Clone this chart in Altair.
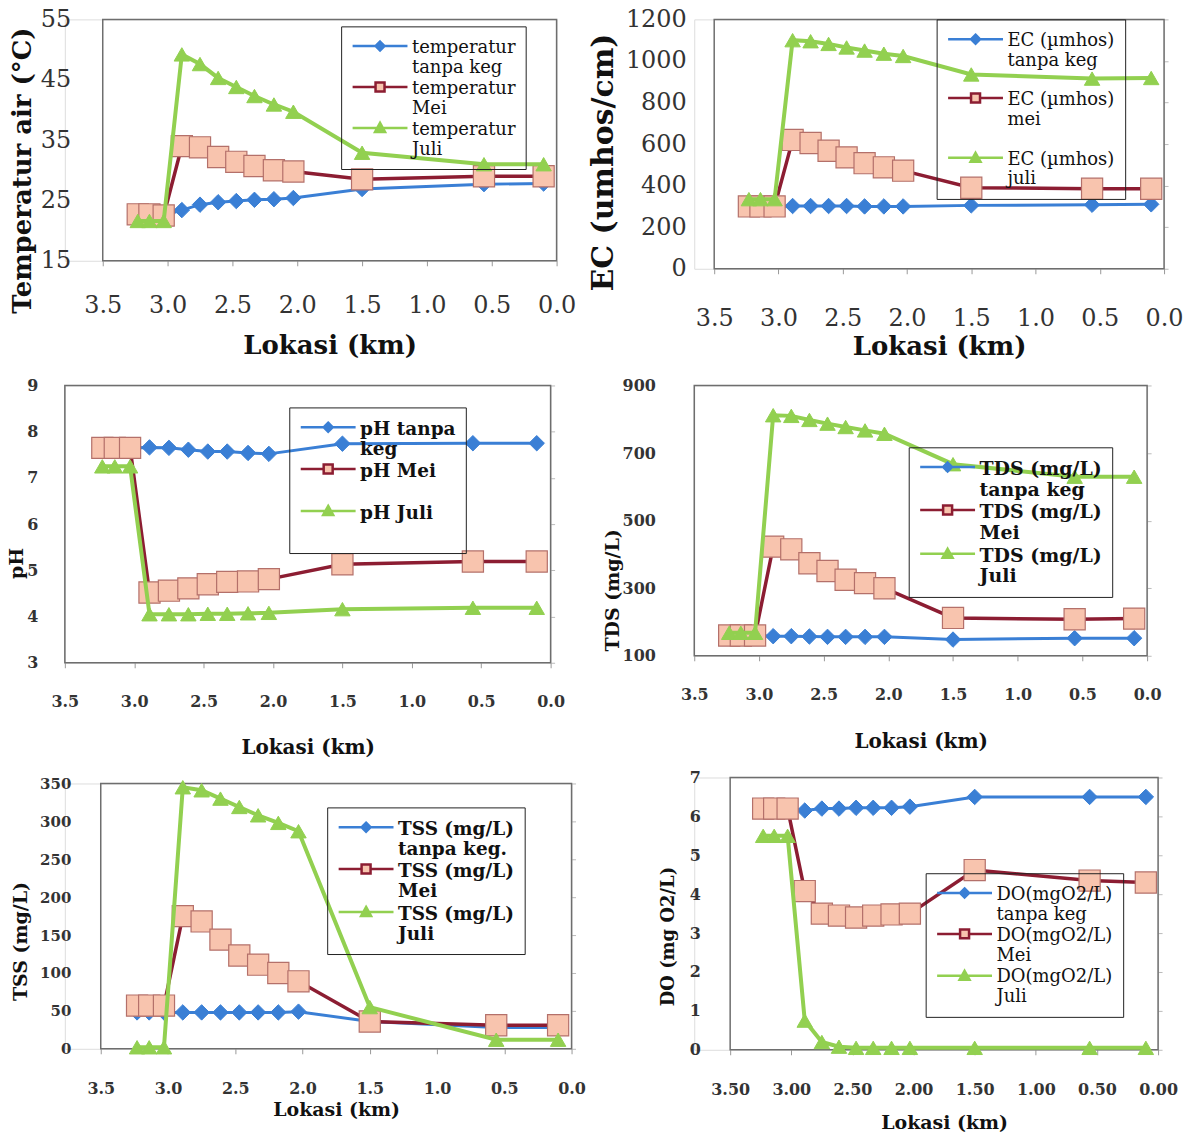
import altair as alt
import pandas as pd

# ---------------- data ----------------
km = [3.23, 3.14, 3.03, 2.89, 2.75, 2.61, 2.47, 2.33, 2.18, 2.03, 1.50, 0.56, 0.10]
x_ticks = [0.0, 0.5, 1.0, 1.5, 2.0, 2.5, 3.0, 3.5]

temp_names = ["temperatur|tanpa keg", "temperatur|Mei", "temperatur|Juli"]
temp_tanpa = [22.7, 22.7, 22.5, 23.4, 24.3, 24.7, 24.9, 25.1, 25.2, 25.4, 26.9, 27.7, 27.8]
temp_mei = [22.7, 22.7, 22.5, 34.0, 33.8, 32.2, 31.4, 30.7, 30.0, 29.8, 28.5, 29.0, 29.0]
temp_juli = [21.6, 21.6, 21.6, 49.2, 47.6, 45.3, 43.8, 42.3, 40.9, 39.7, 32.9, 31.0, 31.0]

ec_names = ["EC (µmhos)|tanpa keg", "EC (µmhos)|mei", "EC (µmhos)|juli"]
ec_tanpa = [300, 300, 300, 302, 302, 302, 302, 300, 300, 300, 305, 308, 310]
ec_mei = [300, 300, 300, 620, 605, 568, 536, 508, 488, 472, 390, 385, 385]
ec_juli = [335, 335, 335, 1100, 1095, 1082, 1065, 1050, 1035, 1024, 935, 915, 918]

ph_names = ["pH tanpa|keg", "pH Mei| ", "pH Juli| "]
ph_tanpa = [7.65, 7.65, 7.65, 7.66, 7.65, 7.61, 7.57, 7.57, 7.54, 7.52, 7.74, 7.75, 7.75]
ph_mei = [7.65, 7.65, 7.65, 4.52, 4.56, 4.61, 4.70, 4.75, 4.76, 4.81, 5.13, 5.19, 5.19]
ph_juli = [7.25, 7.25, 7.25, 4.05, 4.05, 4.05, 4.06, 4.06, 4.07, 4.08, 4.16, 4.19, 4.19]

tds_names = ["TDS (mg/L)|tanpa keg", "TDS (mg/L)|Mei", "TDS (mg/L)|Juli"]
tds_tanpa = [160, 160, 160, 158, 158, 157, 156, 156, 156, 156, 148, 152, 152]
tds_mei = [160, 160, 160, 423, 415, 374, 351, 325, 315, 300, 212, 208, 210]
tds_juli = [168, 168, 168, 812, 810, 798, 787, 777, 767, 757, 667, 630, 630]

tss_names = ["TSS (mg/L)|tanpa keg.", "TSS (mg/L)|Mei", "TSS (mg/L)|Juli"]
tss_tanpa = [48, 48, 48, 48, 48, 48, 48, 48, 48, 49, 36, 28, 28]
tss_mei = [57, 57, 57, 175, 168, 144, 123, 111, 100, 89, 36, 31, 31]
tss_juli = [2, 2, 2, 345, 341, 330, 319, 308, 298, 287, 55, 12, 12]

do_names = ["DO(mgO2/L)|tanpa keg", "DO(mgO2/L)|Mei", "DO(mgO2/L)|Juli"]
do_tanpa = [6.2, 6.2, 6.2, 6.15, 6.2, 6.2, 6.22, 6.22, 6.22, 6.25, 6.5, 6.5, 6.5]
do_mei = [6.2, 6.2, 6.2, 4.08, 3.5, 3.45, 3.4, 3.45, 3.48, 3.5, 4.62, 4.35, 4.3]
do_juli = [5.5, 5.5, 5.5, 0.75, 0.2, 0.08, 0.05, 0.05, 0.05, 0.05, 0.05, 0.05, 0.05]

# ---------------- styles ----------------
BLUE = "#3a7fd5"
RED = "#8c1d32"
PINK = "#f8c4ae"
SQ_EDGE = "#b4706a"
GREEN = "#92d050"
FRAME = "#6e6e6e"
SERIF = "DejaVu Serif"

SERIES_STYLE = [
    dict(line=BLUE, lw=3, shape="diamond", fill=BLUE, stroke=BLUE, size=240, sw=1),
    dict(line=RED, lw=3.5, shape="square", fill=PINK, stroke=SQ_EDGE, size=450, sw=1.2),
    dict(line=GREEN, lw=4, shape="triangle-up", fill=GREEN, stroke=GREEN, size=240, sw=1),
]


def legend_paths(dy):
    return [
        f"M-1,{dy}H4.5M1.75,{dy-0.45}L2.2,{dy}L1.75,{dy+0.45}L1.3,{dy}Z",
        f"M-1,{dy}H1.3M2.2,{dy}H4.5M1.3,{dy-0.45}H2.2V{dy+0.45}H1.3Z",
        f"M-1,{dy}H4.5M1.75,{dy-0.5}L2.25,{dy+0.4}L1.25,{dy+0.4}Z",
    ]


def panel(names, series, ydom, yticks, xfmt, w, r0, h, s):
    rows = []
    for name, vals in zip(names, series):
        for k, v in zip(km, vals):
            rows.append({"km": k, "value": v, "series": name})
    df = pd.DataFrame(rows)
    base = alt.Chart(df)

    xscale = alt.Scale(domain=[0, 3.5], reverse=True, nice=False, zero=False, range=[r0, w])
    yscale = alt.Scale(domain=ydom, nice=False, zero=False)
    xaxis = alt.Axis(
        values=x_ticks, format=xfmt, grid=False, domain=False,
        tickSize=5, tickColor="#999", labelFlush=False, labelOverlap=False,
        labelFont=SERIF, labelFontSize=s["xl_fs"], labelFontWeight=s["lw"],
        labelColor="#333", labelPadding=s["xl_pad"],
        title="Lokasi (km)", titleFont=SERIF, titleFontSize=s["xt_fs"],
        titleFontWeight="bold", titleColor="#111", titlePadding=s["xt_pad"],
    )
    x = alt.X("km:Q", scale=xscale, axis=xaxis, title="Lokasi (km)")
    y_main = alt.Y(
        "value:Q", scale=yscale,
        axis=alt.Axis(
            values=yticks, format="d", grid=False, domain=False, ticks=False,
            labelFlush=False, labelOverlap=False, offset=-r0,
            labelFont=SERIF, labelFontSize=s["yl_fs"], labelFontWeight=s["lw"],
            labelColor="#333", labelPadding=s["yl_pad"],
            title=s["ytitle"], titleFont=SERIF, titleFontSize=s["yt_fs"],
            titleFontWeight="bold", titleColor="#111", titlePadding=s["yt_pad"],
            titleY=s["titleY"],
        ),
    )
    y_plain = alt.Y("value:Q", scale=yscale, axis=None)

    layers = []
    first = True
    for name, st in zip(names, SERIES_STYLE):
        sub = base.transform_filter(alt.datum.series == name)
        layers.append(sub.mark_line(color=st["line"], strokeWidth=st["lw"]).encode(
            x=x, y=y_main if first else y_plain))
        first = False
        layers.append(
            sub.mark_point(
                shape=st["shape"], filled=True, fill=st["fill"], stroke=st["stroke"],
                strokeWidth=st["sw"], size=st["size"], opacity=1,
            ).encode(x=x, y=y_plain)
        )

    # plot frame, drawn through the scales (same x axis definition so axes merge)
    frame = alt.Chart(alt.Data(values=[{}])).mark_rect(
        fillOpacity=0, stroke=FRAME, strokeWidth=1.5
    ).encode(
        x=alt.X(datum=3.5, scale=xscale, axis=xaxis, title="Lokasi (km)"),
        x2=alt.datum(0),
        y=alt.Y(datum=ydom[0], scale=yscale, axis=None),
        y2=alt.datum(ydom[1]),
    )
    layers.insert(0, frame)

    # secondary (right) axis: light tick marks only
    if s.get("right"):
        layers.append(
            base.transform_filter("false").mark_point().encode(
                x=x,
                y=alt.Y("value:Q", scale=yscale, axis=alt.Axis(
                    orient="right", values=yticks, grid=False, domain=False,
                    ticks=True, tickSize=4, tickColor="#bbb", labels=False, title=None,
                )),
            )
        )

    leg = alt.Legend(
        orient="none", legendX=s["lx"], legendY=s["ly"], title=None,
        strokeColor="#222", padding=s["lpad"],
        labelFont=SERIF, labelFontSize=s["lfs"], labelFontWeight=s["lfw"],
        labelColor="#111", labelLimit=400, labelBaseline="middle",
        labelExpr="split(datum.label, '|')", labelOffset=38,
        symbolSize=400, symbolStrokeWidth=2.5, rowPadding=s["rowpad"],
    )
    legend_layer = base.transform_filter("false").mark_point(
        filled=True, opacity=1, strokeWidth=2.5
    ).encode(
        shape=alt.Shape("series:N", scale=alt.Scale(domain=names, range=legend_paths(s["dy"])), legend=leg),
        fill=alt.Fill("series:N", scale=alt.Scale(domain=names, range=[BLUE, PINK, GREEN]), legend=leg),
        stroke=alt.Stroke("series:N", scale=alt.Scale(domain=names, range=[BLUE, RED, GREEN]), legend=leg),
    )
    layers.append(legend_layer)
    return alt.layer(*layers).resolve_axis(y="independent").properties(width=w, height=h)


DY = -0.17

top_style = dict(xl_fs=24, lw="normal", xl_pad=28, xt_fs=26, xt_pad=15,
                 yl_fs=24, yl_pad=32, yt_fs=26, yt_pad=5,
                 lfs=18, lfw="normal", lpad=10, rowpad=-5, dy=DY, right=False)

# left column: plot origin at x=64 ; right column: plot origin at x=690
p_temp = panel(temp_names, [temp_tanpa, temp_mei, temp_juli], [15, 55], [15, 25, 35, 45, 55], ".1f",
               493, 38, 242, dict(top_style, ytitle="Temperatur air (°C)", titleY=151, lx=277, ly=7))
p_ec = panel(ec_names, [ec_tanpa, ec_mei, ec_juli], [0, 1200], [0, 200, 400, 600, 800, 1000, 1200], ".1f",
             471, 20, 250, dict(top_style, xl_pad=33, xt_pad=3, yl_pad=28, yt_fs=30, yt_pad=7, right=True,
                                ytitle="EC (umhos/cm)", titleY=143, lx=243, ly=0, rowpad=18))

mid_style = dict(xl_fs=16, lw="bold", xl_pad=26, xt_fs=20, xt_pad=28,
                 yl_fs=16, yl_pad=27, yt_fs=19, yt_pad=0,
                 lfs=18.5, lfw="bold", lpad=10, rowpad=-5, dy=DY, right=True)

p_ph = panel(ph_names, [ph_tanpa, ph_mei, ph_juli], [3, 9], [3, 4, 5, 6, 7, 8, 9], ".1f",
             487, 0, 278, dict(mid_style, ytitle="pH", titleY=178, lx=225, ly=22))
p_tds = panel(tds_names, [tds_tanpa, tds_mei, tds_juli], [100, 900], [100, 300, 500, 700, 900], ".1f",
              454, 0, 271, dict(mid_style, yl_pad=39, xt_pad=29, rowpad=0, lfs=19,
                                ytitle="TDS (mg/L)", titleY=205, lx=215, ly=62))

bot_style = dict(xl_fs=16, lw="bold", xl_pad=27, xt_fs=19, xt_pad=4,
                 yl_fs=15, yl_pad=30, yt_fs=19, yt_pad=9,
                 lfs=18.5, lfw="bold", lpad=10, rowpad=0, dy=DY, right=True)

p_tss = panel(tss_names, [tss_tanpa, tss_mei, tss_juli], [0, 350], [0, 50, 100, 150, 200, 250, 300, 350], ".1f",
              508, 36, 266, dict(bot_style, ytitle="TSS (mg/L)", titleY=158, lx=263, ly=24))
p_do = panel(do_names, [do_tanpa, do_mei, do_juli], [0, 7], [0, 1, 2, 3, 4, 5, 6, 7], ".2f",
             465, 36, 273, dict(bot_style, yl_fs=16, yt_fs=18, yt_pad=12, xt_pad=16, lfw="normal", lfs=18,
                                ytitle="DO (mg O2/L)", titleY=159, lx=232, ly=96))

INDEP = dict(shape="independent", fill="independent", stroke="independent")

left_col = alt.vconcat(p_temp, p_ph, p_tss, spacing=17).resolve_scale(**INDEP).resolve_legend(**INDEP)
right_col = alt.vconcat(p_ec, p_tds, p_do, spacing=16).resolve_scale(**INDEP).resolve_legend(**INDEP)

chart = alt.hconcat(left_col, right_col, spacing=1).resolve_scale(**INDEP).resolve_legend(**INDEP).properties(
    padding={"left": 7, "top": 5, "right": 5, "bottom": 5}
).configure_view(stroke="transparent").configure(background="white")

chart.save("out.html", embed_options={"renderer": "svg", "actions": False})
